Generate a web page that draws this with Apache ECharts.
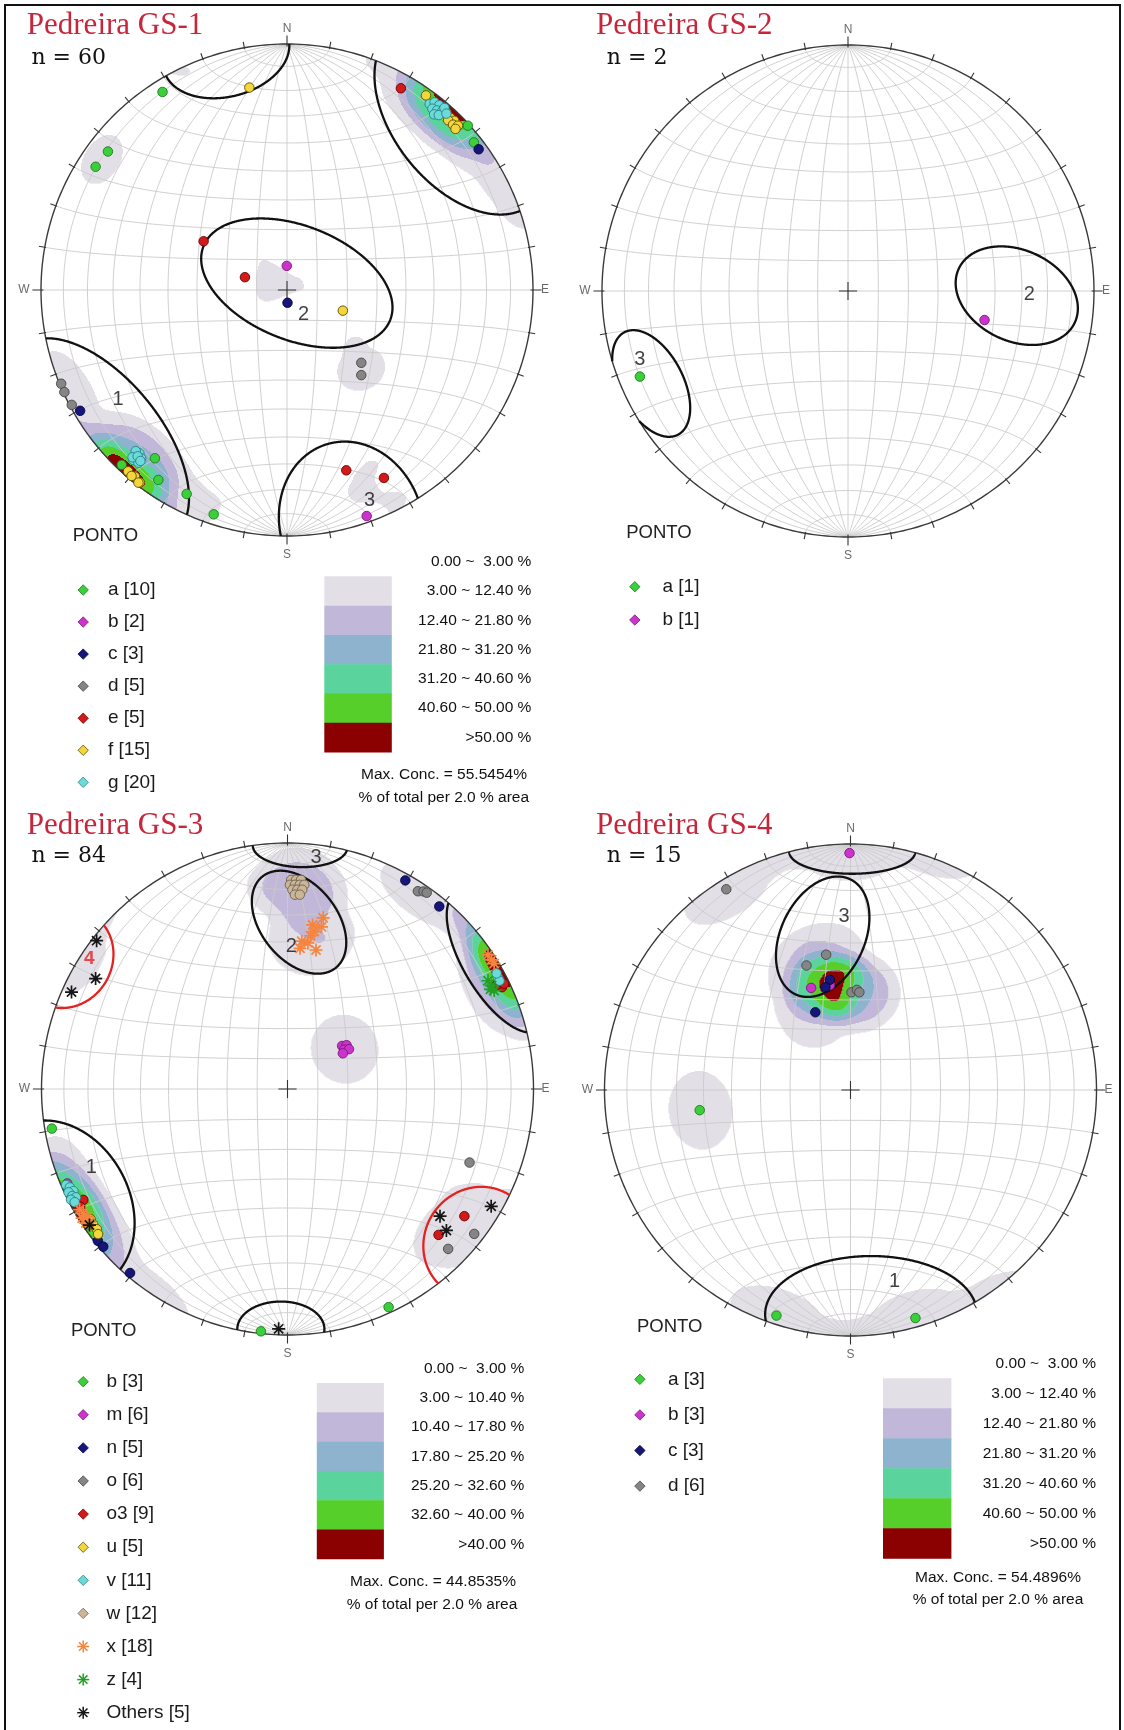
<!DOCTYPE html>
<html lang="pt">
<head>
<meta charset="utf-8">
<title>Pedreira GS-1 a GS-4</title>
<script src="https://cdn.jsdelivr.net/npm/echarts@6.0.0/dist/echarts.min.js"></script>
<style>
html,body{margin:0;padding:0;background:#fff;}
#chart{width:1124px;height:1730px;}
</style>
</head>
<body>
<div id="chart"></div>
<script>
// Poles per station on an equal-area (Schmidt) lower-hemisphere net,
// given as net coordinates with a unit primitive (x = east, y = north).

// ---------- Pedreira GS-1 ----------
const gs1_a = [[-0.506,0.805],[-0.728,0.563],[-0.778,0.501],[0.735,0.668],[0.760,0.600],[-0.537,-0.684],[-0.523,-0.772],[-0.408,-0.829],[-0.298,-0.912],[-0.672,-0.711]];
const gs1_b = [[-0.001,0.098],[0.324,-0.919]];
const gs1_c = [[0.002,-0.052],[-0.841,-0.491],[0.779,0.572]];
const gs1_d = [[0.302,-0.296],[0.302,-0.346],[-0.918,-0.381],[-0.905,-0.415],[-0.875,-0.467]];
const gs1_e = [[0.463,0.820],[-0.339,0.198],[-0.171,0.052],[0.241,-0.733],[0.394,-0.764]];
const gs1_f = [[-0.153,0.823],[0.227,-0.084],[0.565,0.791],[0.648,0.722],[0.664,0.700],[0.680,0.688],[0.655,0.690],[0.675,0.672],[0.695,0.668],[0.685,0.655],[-0.646,-0.737],[-0.618,-0.759],[-0.632,-0.756],[-0.598,-0.783],[-0.604,-0.783]];
const gs1_g = [[0.580,0.756],[0.600,0.763],[0.619,0.751],[0.591,0.737],[0.610,0.730],[0.630,0.726],[0.598,0.714],[0.617,0.711],[0.640,0.740],[0.648,0.717],[-0.618,-0.671],[-0.600,-0.664],[-0.611,-0.688],[-0.593,-0.684],[-0.625,-0.691],[-0.604,-0.702],[-0.615,-0.655],[-0.628,-0.680],[-0.607,-0.676],[-0.596,-0.695]];
const gs1_counts = [10,2,3,5,5,15,20];
const gs1_n = 60;
const gs1_levels = [3.00,12.40,21.80,31.20,40.60,50.00];
const gs1_maxConc = 55.5454;
// family outlines: [centre x, centre y, semi-axis a, semi-axis b, rotation deg]
const gs1_rings = [[0.040,0.028,0.408,0.232,-21.6],[0.710,0.698,0.450,0.276,-51.3],[-0.765,-0.610,0.491,0.254,-51.0],[-0.247,0.957,0.261,0.171,14.2],[0.262,-0.953,0.290,0.341,17.7]];
const gs1_ringLabels = [['1',-0.687,-0.447],['2',0.067,-0.099],['3',0.336,-0.854]];

// ---------- Pedreira GS-2 ----------
const gs2_a = [[-0.846,-0.348]];
const gs2_b = [[0.555,-0.118]];
const gs2_counts = [1,1];
const gs2_n = 2;
const gs2_rings = [[0.686,-0.019,0.260,0.185,-24.9],[-0.800,-0.376,0.235,0.130,-62.4]];
const gs2_ringLabels = [['2',0.737,-0.016],['3',-0.846,-0.279]];

// ---------- Pedreira GS-3 ----------
const gs3_b = [[-0.958,-0.161],[0.411,-0.887],[-0.108,-0.985]];
const gs3_m = [[0.222,0.175],[0.240,0.178],[0.230,0.160],[0.250,0.162],[0.225,0.145],[-0.895,-0.384]];
const gs3_n_ = [[0.479,0.848],[0.617,0.742],[-0.771,-0.617],[-0.749,-0.641],[-0.640,-0.748]];
const gs3_o = [[0.530,0.804],[0.553,0.803],[0.566,0.798],[0.740,-0.299],[0.759,-0.589],[0.653,-0.650]];
const gs3_o3 = [[0.719,-0.517],[0.614,-0.593],[0.866,0.446],[0.856,0.432],[0.872,0.414],[0.846,0.418],[0.880,0.428],[-0.830,-0.451],[-0.843,-0.478]];
const gs3_u = [[-0.800,-0.530],[-0.790,-0.550],[-0.775,-0.570],[-0.810,-0.550],[-0.770,-0.590]];
const gs3_v = [[-0.900,-0.390],[-0.885,-0.400],[-0.870,-0.415],[-0.890,-0.420],[-0.875,-0.435],[-0.860,-0.440],[-0.880,-0.450],[-0.865,-0.460],[0.855,0.455],[0.862,0.440],[0.850,0.470]];
const gs3_w = [[0.015,0.850],[0.035,0.850],[0.055,0.850],[0.010,0.830],[0.030,0.830],[0.050,0.830],[0.068,0.830],[0.020,0.810],[0.040,0.810],[0.060,0.810],[0.030,0.790],[0.050,0.790]];
const gs3_x = [[0.145,0.696],[0.102,0.667],[0.138,0.659],[0.094,0.623],[0.058,0.601],[0.083,0.594],[0.116,0.565],[0.051,0.572],[0.109,0.640],[-0.845,-0.490],[-0.830,-0.505],[-0.835,-0.525],[-0.815,-0.520],[-0.820,-0.545],[-0.805,-0.540],[0.815,0.545],[0.830,0.525],[0.840,0.510]];
const gs3_z = [[0.830,0.420],[0.840,0.400],[0.815,0.440],[0.825,0.405]];
const gs3_others = [[-0.776,0.603],[-0.780,0.449],[-0.878,0.394],[0.620,-0.517],[0.646,-0.575],[0.828,-0.477],[-0.036,-0.975],[-0.805,-0.553]];
const gs3_counts = [3,6,5,6,9,5,11,12,18,4,5];
const gs3_n = 84;
const gs3_levels = [3.00,10.40,17.80,25.20,32.60,40.00];
const gs3_maxConc = 44.8535;
const gs3_rings = [[0.047,0.678,0.238,0.155,-51.2],[0.051,0.985,0.192,0.083,-1.5],[-0.027,-0.976,0.177,0.112,0],[-0.924,-0.475,0.363,0.283,-62.0],[0.851,0.516,0.325,0.134,-58.8]];
const gs3_rings4 = [[-0.899,0.530,0.206,0.186,58.7],[0.775,-0.625,0.232,0.218,54.5]];
const gs3_ringLabels = [['1',-0.798,-0.321],['2',0.015,0.580],['3',0.116,0.943]];
const gs3_ringLabels4 = [['4',-0.806,0.529]];

// ---------- Pedreira GS-4 ----------
const gs4_a = [[-0.613,-0.082],[-0.301,-0.917],[0.264,-0.927]];
const gs4_b = [[-0.004,0.963],[-0.160,0.415],[-0.084,0.426]];
const gs4_c = [[-0.143,0.316],[-0.084,0.448],[-0.102,0.418]];
const gs4_d = [[-0.505,0.816],[-0.099,0.550],[-0.179,0.506],[0.004,0.397],[0.026,0.407],[0.036,0.397]];
const gs4_counts = [3,3,3,6];
const gs4_n = 15;
const gs4_levels = [3.00,12.40,21.80,31.20,40.60,50.00];
const gs4_maxConc = 54.4896;
const gs4_rings = [[-0.113,0.623,0.259,0.170,64.3],[0.007,0.968,0.256,0.089,0],[0.084,-0.912,0.431,0.237,0]];
const gs4_ringLabels = [['1',0.179,-0.780],['3',-0.026,0.704]];

// ---------- drawing ----------
const DEG = Math.PI / 180;
const R_PX = 246;     // primitive radius in pixels
const EXT = 1.1;      // axis half-range in net units
const SANS = '"Liberation Sans", Arial, Helvetica, sans-serif';
const densityColors = ['#e3dfe7','#c1b7d8','#8db3cf','#5ad39c','#56cf2b','#8b0000'];

const GREEN = {color:'#3ccf3c', border:'#1d7a1d'};
const MAGENTA = {color:'#cc33cc', border:'#7a1a7a'};
const NAVY = {color:'#16167a', border:'#05053a'};
const GRAY = {color:'#858585', border:'#454545'};
const RED = {color:'#d21a1a', border:'#6b0000'};
const YELLOW = {color:'#f3d63c', border:'#5e4c00'};
const CYAN = {color:'#6adada', border:'#2b7f7f'};
const TAN = {color:'#cbb697', border:'#6e6050'};
const ORANGE = {color:'#f5843f', border:'#f5843f', star:true};
const GREENSTAR = {color:'#23a023', border:'#23a023', star:true};
const BLACKSTAR = {color:'#151515', border:'#151515', star:true};

const panels = [
  { title:'Pedreira GS-1', n:gs1_n, cx:287, cy:290, levels:gs1_levels, maxConc:gs1_maxConc,
    groups:[['a',gs1_a,GREEN],['b',gs1_b,MAGENTA],['c',gs1_c,NAVY],['d',gs1_d,GRAY],['e',gs1_e,RED],['f',gs1_f,YELLOW],['g',gs1_g,CYAN]],
    counts:gs1_counts, rings:gs1_rings, redRings:[], ringLabels:gs1_ringLabels, redLabels:[],
    lay:{title:[26.8,26], n:[31.4,58], ponto:[105.4,536], lx:83.2, tx:107.9, ly:590, ldy:32.05,
         bx0:324.3, bx1:391.8, blx:531.4, by:561.7, bdy:29.3, conc:[444,775], per:[443.8,797.3]} },
  { title:'Pedreira GS-2', n:gs2_n, cx:848, cy:291, levels:null,
    groups:[['a',gs2_a,GREEN],['b',gs2_b,MAGENTA]],
    counts:gs2_counts, rings:gs2_rings, redRings:[], ringLabels:gs2_ringLabels, redLabels:[],
    lay:{title:[596,26], n:[606.8,58], ponto:[659,533.3], lx:634.8, tx:662.5, ly:586.7, ldy:33.3} },
  { title:'Pedreira GS-3', n:gs3_n, cx:287.5, cy:1089, levels:gs3_levels, maxConc:gs3_maxConc,
    groups:[['b',gs3_b,GREEN],['m',gs3_m,MAGENTA],['n',gs3_n_,NAVY],['o',gs3_o,GRAY],['o3',gs3_o3,RED],['u',gs3_u,YELLOW],['v',gs3_v,CYAN],['w',gs3_w,TAN],['x',gs3_x,ORANGE],['z',gs3_z,GREENSTAR],['Others',gs3_others,BLACKSTAR]],
    counts:gs3_counts, rings:gs3_rings, redRings:gs3_rings4, ringLabels:gs3_ringLabels, redLabels:gs3_ringLabels4,
    lay:{title:[26.8,826], n:[31.4,856], ponto:[103.6,1330.7], lx:83.2, tx:106.4, ly:1381.7, ldy:33.1,
         bx0:316.8, bx1:383.9, blx:524.3, by:1368.3, bdy:29.33, conc:[433,1581.7], per:[432,1605]} },
  { title:'Pedreira GS-4', n:gs4_n, cx:850.5, cy:1090, levels:gs4_levels, maxConc:gs4_maxConc,
    groups:[['a',gs4_a,GREEN],['b',gs4_b,MAGENTA],['c',gs4_c,NAVY],['d',gs4_d,GRAY]],
    counts:gs4_counts, rings:gs4_rings, redRings:[], ringLabels:gs4_ringLabels, redLabels:[],
    lay:{title:[596,826], n:[606.8,856], ponto:[669.7,1327.3], lx:639.9, tx:667.9, ly:1379.3, ldy:35.6,
         bx0:883, bx1:951.4, blx:1096, by:1363.3, bdy:30, conc:[998,1577.3], per:[998,1599.3]} }
];

// equatorial Lambert equal-area projection, scaled to a unit primitive
function proj(lamDeg, phiDeg) {
  const l = lamDeg * DEG, p = phiDeg * DEG;
  const k = 1 / Math.sqrt(1 + Math.cos(p) * Math.cos(l));
  return [k * Math.cos(p) * Math.sin(l), k * Math.sin(p)];
}
function graticule() {
  const out = [];
  for (let lam = -80; lam <= 80; lam += 10) {
    const c = []; for (let phi = -90; phi <= 90; phi += 2) c.push(proj(lam, phi)); out.push({coords:c});
  }
  for (let phi = -80; phi <= 80; phi += 10) {
    const c = []; for (let lam = -90; lam <= 90; lam += 2) c.push(proj(lam, phi)); out.push({coords:c});
  }
  return out;
}
function primitive() {
  const c = []; for (let t = 0; t <= 360; t += 1) c.push([Math.sin(t*DEG), Math.cos(t*DEG)]);
  return [{coords:c}];
}
function ticksAndCross() {
  const out = [];
  for (let az = 0; az < 360; az += 10) {
    const card = az % 90 === 0, r0 = card ? 0.99 : 0.995, r1 = card ? 1.035 : 1.024;
    const s = Math.sin(az*DEG), c = Math.cos(az*DEG);
    out.push({coords:[[s*r0, c*r0],[s*r1, c*r1]]});
  }
  out.push({coords:[[-0.037,0],[0.037,0]]});
  out.push({coords:[[0,-0.037],[0,0.037]]});
  return out;
}
// ellipse outline clipped to the primitive
function ringArcs(e) {
  const [cx, cy, a, b, ang] = e, th = ang * DEG, N = 720, pts = [];
  for (let i = 0; i < N; i++) {
    const t = 2 * Math.PI * i / N, ca = a * Math.cos(t), sb = b * Math.sin(t);
    pts.push([cx + ca*Math.cos(th) - sb*Math.sin(th), cy + ca*Math.sin(th) + sb*Math.cos(th)]);
  }
  const inside = p => p[0]*p[0] + p[1]*p[1] <= 1;
  const edge = (o, i) => { let lo = 0, hi = 1; for (let k = 0; k < 30; k++) { const m = (lo+hi)/2, q = [o[0]+(i[0]-o[0])*m, o[1]+(i[1]-o[1])*m]; if (inside(q)) hi = m; else lo = m; } return [o[0]+(i[0]-o[0])*hi, o[1]+(i[1]-o[1])*hi]; };
  const s0 = pts.findIndex(p => !inside(p));
  if (s0 < 0) return [{coords: pts.concat([pts[0]])}];
  const arcs = []; let cur = null;
  for (let k = 1; k <= N; k++) {
    const prev = pts[(s0+k-1) % N], p = pts[(s0+k) % N], ip = inside(p), iq = inside(prev);
    if (ip && !iq) cur = [edge(prev, p), p];
    else if (ip && iq) cur.push(p);
    else if (!ip && iq) { cur.push(edge(p, prev)); arcs.push({coords:cur}); cur = null; }
  }
  return arcs;
}
// net coordinates -> unit vector (lower hemisphere)
function toVec(u, v) {
  const r2 = u*u + v*v, s = Math.sqrt(Math.max(0, 2 - r2));
  return [u*s, v*s, r2 - 1];
}
// axial density in % of the station total, smoothed counting cone (full weight inside IN deg,
// tapering smoothly to zero at OUT deg); returns horizontal runs of equal contour level
const IN = 6, OUT = 16.5;
function densityRuns(points, total, levels) {
  const vecs = points.map(p => toVec(p[0], p[1]));
  const n = vecs.length, scale = 100 / total;
  const cOut = Math.cos(OUT * DEG), cIn = Math.cos(IN * DEG);
  const step = 1 / R_PX, runs = [];
  for (let j = 0; ; j++) {
    const y = 1 - (j + 0.5) * step; if (y < -1) break;
    let cur = 0, start = 0;
    for (let i = 0; ; i++) {
      const x = -1 + (i + 0.5) * step; if (x > 1) break;
      let lv = 0;
      if (x*x + y*y <= 1) {
        const p = toVec(x, y); let s = 0;
        for (let q = 0; q < n; q++) {
          const v = vecs[q], d = Math.abs(p[0]*v[0] + p[1]*v[1] + p[2]*v[2]);
          if (d >= cIn) s += 1;
          else if (d > cOut) { const t = (OUT - Math.acos(d) / DEG) / (OUT - IN); s += t * t * (3 - 2 * t); }
        }
        const pct = s * scale;
        while (lv < levels.length && pct >= levels[lv]) lv++;
      }
      if (lv !== cur) { if (cur > 0) runs.push([start, x - step/2, y, cur]); cur = lv; start = x - step/2; }
    }
    if (cur > 0) runs.push([start, 1, y, cur]);
  }
  return runs;
}
function asteriskPath() {
  let s = ''; const w = 0.13;
  [0,45,90,135].forEach(ang => {
    const c = Math.cos(ang*DEG), si = Math.sin(ang*DEG);
    const q = [[-1,-w],[1,-w],[1,w],[-1,w]].map(([x,y]) => [x*c - y*si, x*si + y*c]);
    s += 'M' + q.map(p => p[0].toFixed(3) + ',' + p[1].toFixed(3)).join('L') + 'Z';
  });
  return 'path://' + s;
}
const STAR = asteriskPath();

function txt(text, x, y, size, o) {
  o = o || {};
  const align = o.align || 'left';
  return {type:'text', silent:true, z:10, style:{text:text, x:x, y:y, fill:o.color || '#1a1a1a',
    font:(o.weight ? o.weight + ' ' : '') + size + 'px ' + (o.family || SANS),
    textAlign:align, textVerticalAlign:'middle', align:align, verticalAlign:'middle'}};
}
function legendMark(st, x, y) {
  if (st.star) {
    return [0,45,90,135].map(a => {
      const c = Math.cos(a*DEG)*6, s = Math.sin(a*DEG)*6;
      return {type:'line', silent:true, z:10, shape:{x1:x-c, y1:y-s, x2:x+c, y2:y+s}, style:{stroke:st.color, lineWidth:1.5}};
    });
  }
  return [{type:'polygon', silent:true, z:10, shape:{points:[[x,y-5.2],[x+5.2,y],[x,y+5.2],[x-5.2,y]]}, style:{fill:st.color, stroke:st.border, lineWidth:0.8}}];
}
const fmt = v => v.toFixed(2);

const option = {animation:false, backgroundColor:'#ffffff', grid:[], xAxis:[], yAxis:[], series:[], graphic:{elements:[]}};
const G = option.graphic.elements;
G.push({type:'rect', silent:true, z:20, shape:{x:5, y:5, width:1115, height:1745}, style:{fill:'none', stroke:'#111', lineWidth:2}});

panels.forEach((P, gi) => {
  const half = R_PX * EXT;
  option.grid.push({left:P.cx - half, top:P.cy - half, width:2*half, height:2*half, containLabel:false});
  option.xAxis.push({type:'value', gridIndex:gi, min:-EXT, max:EXT, show:false});
  option.yAxis.push({type:'value', gridIndex:gi, min:-EXT, max:EXT, show:false});
  const ax = {xAxisIndex:gi, yAxisIndex:gi, silent:true, animation:false};

  if (P.levels) {
    const all = []; P.groups.forEach(g => g[1].forEach(p => all.push(p)));
    const hs = 0.5 / R_PX;
    option.series.push(Object.assign({type:'custom', z:1, clip:false, progressive:0, progressiveThreshold:1e7,
      data: densityRuns(all, P.n, P.levels),
      renderItem: (params, api) => {
        const y = api.value(2), a = api.coord([api.value(0), y + hs]), b = api.coord([api.value(1), y - hs]);
        return {type:'rect', shape:{x:a[0], y:a[1], width:b[0]-a[0], height:b[1]-a[1]+0.6}, style:{fill:densityColors[api.value(3)-1]}};
      }}, ax));
  }
  option.series.push(Object.assign({type:'lines', coordinateSystem:'cartesian2d', polyline:true, z:2, data:graticule(),
    lineStyle:{color:'#cbcbcb', width:0.9, opacity:1}}, ax));
  option.series.push(Object.assign({type:'lines', coordinateSystem:'cartesian2d', polyline:true, z:3, data:primitive(),
    lineStyle:{color:'#3a3a3a', width:1.4, opacity:1}}, ax));
  option.series.push(Object.assign({type:'lines', coordinateSystem:'cartesian2d', polyline:true, z:3, data:ticksAndCross(),
    lineStyle:{color:'#333', width:1.1, opacity:1}}, ax));
  const blackArcs = []; P.rings.forEach(r => ringArcs(r).forEach(a => blackArcs.push(a)));
  option.series.push(Object.assign({type:'lines', coordinateSystem:'cartesian2d', polyline:true, z:4, data:blackArcs,
    lineStyle:{color:'#111', width:2.3, opacity:1}}, ax));
  if (P.redRings.length) {
    const redArcs = []; P.redRings.forEach(r => ringArcs(r).forEach(a => redArcs.push(a)));
    option.series.push(Object.assign({type:'lines', coordinateSystem:'cartesian2d', polyline:true, z:4, data:redArcs,
      lineStyle:{color:'#e52222', width:2.3, opacity:1}}, ax));
  }
  P.groups.forEach(([name, pts, st]) => {
    option.series.push(Object.assign({type:'scatter', name:P.title + ' ' + name, z:5, clip:false, data:pts,
      symbol: st.star ? STAR : 'circle', symbolKeepAspect:true, symbolSize: st.star ? 13 : 9.5,
      itemStyle: st.star ? {color:st.color, opacity:1} : {color:st.color, borderColor:st.border, borderWidth:0.9, opacity:1}}, ax));
  });
  // compass letters and family numbers
  const lab = [
    {value:[0,1.061], name:'N'}, {value:[0,-1.077], name:'S'}, {value:[-1.069,0], name:'W'}, {value:[1.049,0], name:'E'}
  ].map(d => Object.assign(d, {label:{fontSize:12, color:'#444', fontFamily:SANS}}));
  P.ringLabels.forEach(([t,x,y]) => lab.push({value:[x,y], name:t, label:{fontSize:20, color:'#111', fontFamily:SANS}}));
  P.redLabels.forEach(([t,x,y]) => lab.push({value:[x,y], name:t, label:{fontSize:19, color:'#e52222', fontWeight:'bold', fontFamily:SANS}}));
  option.series.push(Object.assign({type:'scatter', z:6, clip:false, data:lab, symbol:'circle', symbolSize:1,
    itemStyle:{color:'rgba(0,0,0,0)'}, label:{show:true, position:'inside', formatter:'{b}'}}, ax));

  // headings
  const L = P.lay;
  G.push(txt(P.title, L.title[0], L.title[1], 31, {color:'#c8253b', family:'"Liberation Serif", "Times New Roman", serif'}));
  G.push(txt('n = ' + P.n, L.n[0], L.n[1], 22, {color:'#111', family:'"DejaVu Serif", serif'}));
  // point legend
  G.push(txt('PONTO', L.ponto[0], L.ponto[1], 18.5, {align:'center', color:'#222'}));
  P.groups.forEach(([name, pts, st], k) => {
    const y = L.ly + k * L.ldy;
    legendMark(st, L.lx, y).forEach(e => G.push(e));
    G.push(txt(name + ' [' + P.counts[k] + ']', L.tx, y, 19, {color:'#1a1a1a'}));
  });
  // contour key
  if (P.levels) {
    const lv = P.levels;
    const labels = ['0.00 ~ ' + fmt(lv[0]).padStart(5, ' ') + ' %'];
    for (let k = 0; k < lv.length - 1; k++) labels.push(fmt(lv[k]) + ' ~ ' + fmt(lv[k+1]) + ' %');
    labels.push('>' + fmt(lv[lv.length-1]) + ' %');
    labels.forEach((t, k) => {
      const y = L.by + k * L.bdy;
      if (k > 0) G.push({type:'rect', silent:true, z:9, shape:{x:L.bx0, y:y - L.bdy/2, width:L.bx1 - L.bx0, height:L.bdy + 0.4}, style:{fill:densityColors[k-1]}});
      G.push(txt(t, L.blx, y, 15.5, {align:'right', color:'#111'}));
    });
    G.push(txt('Max. Conc. = ' + P.maxConc.toFixed(4) + '%', L.conc[0], L.conc[1], 15.5, {align:'center', color:'#111'}));
    G.push(txt('% of total per 2.0 % area', L.per[0], L.per[1], 15.5, {align:'center', color:'#111'}));
  }
});

const chart = echarts.init(document.getElementById('chart'), null, {renderer:'canvas', width:1124, height:1730});
chart.setOption(option);
</script>
</body>
</html>
